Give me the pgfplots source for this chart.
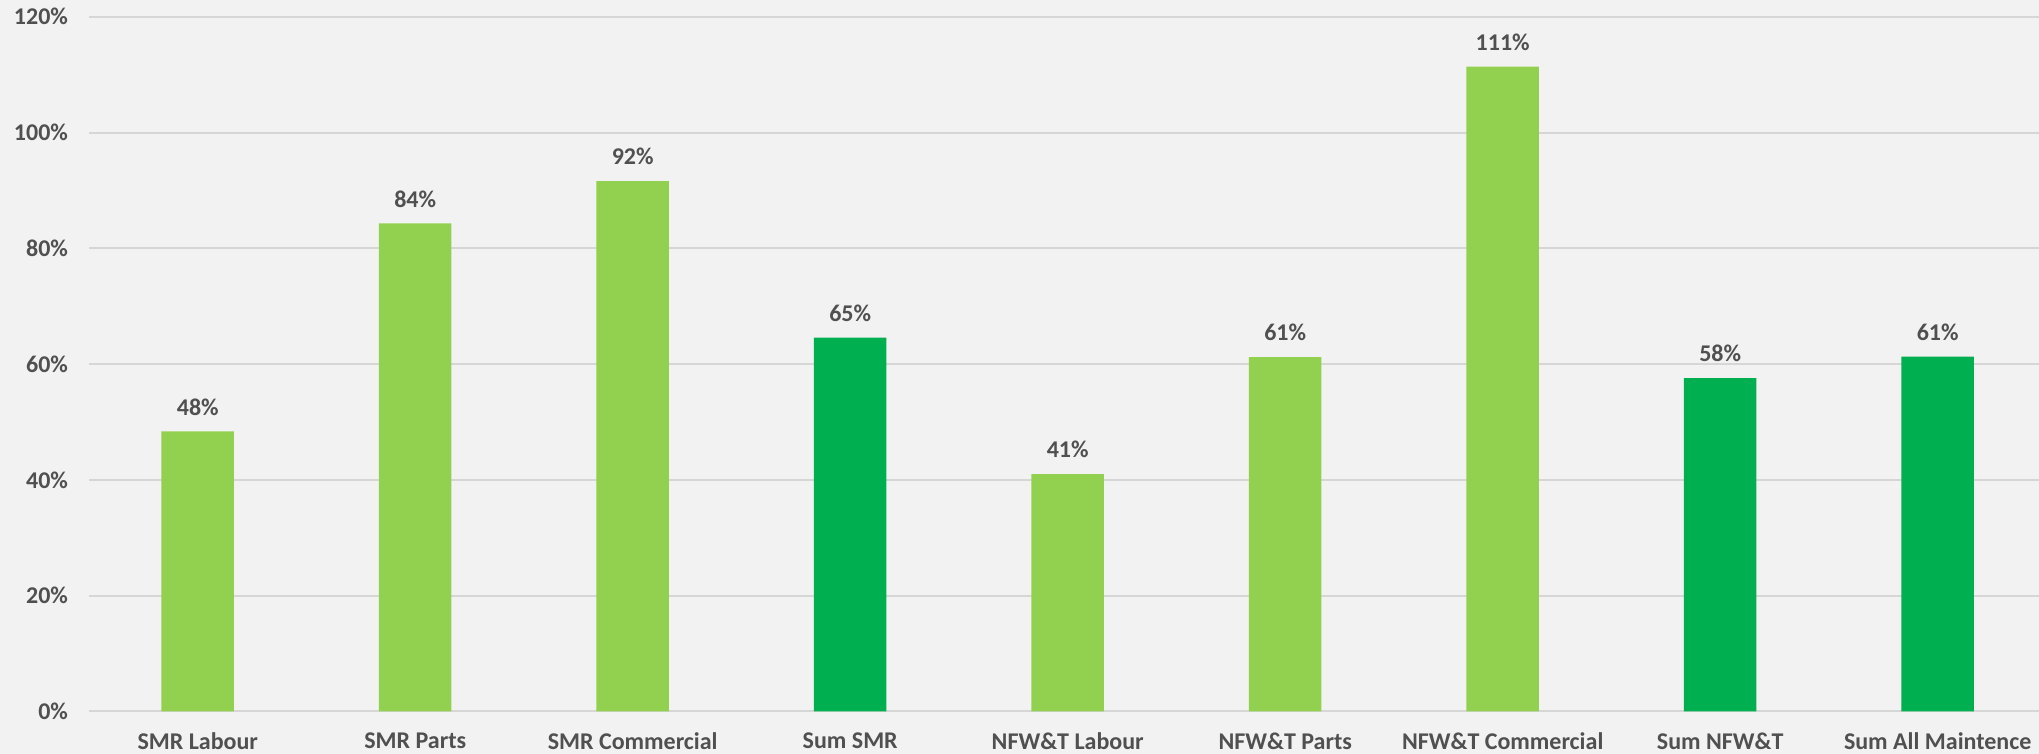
\documentclass[border=0pt]{standalone}
\usepackage{fontspec}
\setmainfont{Carlito}
\usepackage{pgfplots}
\usepackage{pgfplotstable}
\pgfplotsset{compat=1.18}

\definecolor{lightgreen}{HTML}{92D050}
\definecolor{darkgreen}{HTML}{00B050}
\definecolor{txt}{HTML}{505050}
\definecolor{bg}{HTML}{F2F2F2}
\definecolor{gridc}{HTML}{D6D6D6}

% category bars
\pgfplotstableread{
x val
0 48.4
1 84.3
2 91.6
4 41.0
5 61.2
6 111.4
}\parts
% sum bars
\pgfplotstableread{
x val
3 64.6
7 57.6
8 61.3
}\sums

\begin{document}
\begin{tikzpicture}
\useasboundingbox (-44.5pt,-21.25pt) rectangle (975pt,355.75pt);
\fill[bg] (-44.5pt,-21.25pt) rectangle (975pt,355.75pt);
\begin{axis}[
    at={(0,0)}, anchor=south west,
    scale only axis,
    width=974.8pt, height=347.35pt,
    xmin=-0.5, xmax=8.464,
    ymin=0, ymax=120,
    ybar, bar width=36.25pt, bar shift=0pt,
    xtick={0,...,8},
    xticklabels={SMR Labour, SMR Parts, SMR Commercial, Sum SMR,
        NFW\&T Labour, NFW\&T Parts, NFW\&T Commercial, Sum NFW\&T,
        Sum All Maintence},
    ytick={0,20,...,120},
    yticklabel={\pgfmathprintnumber{\tick}\%},
    /pgf/number format/assume math mode=true,
    ticklabel style={font=\fontsize{12}{14}\selectfont\bfseries, text=txt},
    xticklabel style={yshift=-7pt},
    yticklabel style={xshift=-7pt},
    axis line style={draw=none},
    major tick length=0pt,
    ymajorgrids,
    grid style={gridc, line width=1pt},
    nodes near coords={\pgfmathprintnumber[fixed,precision=0]{\pgfplotspointmeta}\%},
    nodes near coords style={font=\fontsize{12}{14}\selectfont\bfseries, text=txt,
        anchor=south, yshift=4.5pt},
    clip=false,
]
\addplot[fill=lightgreen, draw=none] table[x=x, y=val] {\parts};
\addplot[fill=darkgreen, draw=none] table[x=x, y=val] {\sums};
\end{axis}
\end{tikzpicture}
\end{document}
